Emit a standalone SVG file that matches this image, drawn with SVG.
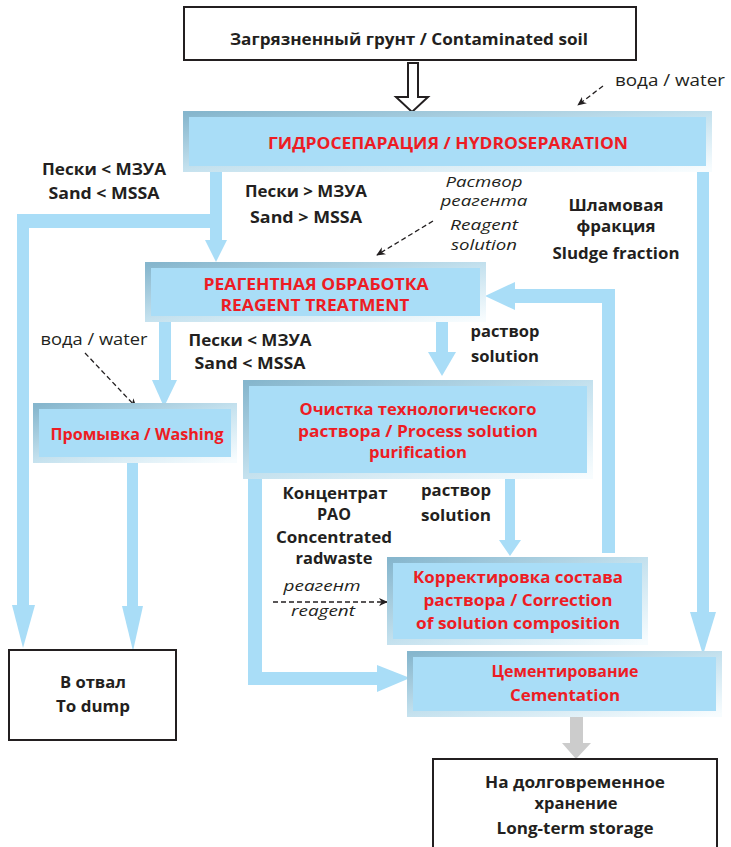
<svg xmlns="http://www.w3.org/2000/svg" width="731" height="847" viewBox="0 0 731 847">
<defs>
<linearGradient id="bev" x1="0" y1="0" x2="1" y2="1">
<stop offset="0" stop-color="#86b6cd"/>
<stop offset="0.5" stop-color="#c4e1ee"/>
<stop offset="1" stop-color="#f7fcfe"/>
</linearGradient>
<marker id="ah" viewBox="0 0 10 10" refX="9" refY="5" markerWidth="9" markerHeight="9" markerUnits="userSpaceOnUse" orient="auto">
<path d="M0,0.5 L10,5 L0,9.5 L3,5 z" fill="#231f20"/>
</marker>
<style>
.t{font-family:"Open Sans","Noto Sans","Liberation Sans",sans-serif;font-weight:700;font-size:16.5px;fill:#231f20;text-anchor:middle}
.r{fill:#ed1c24}
.i{font-style:italic;font-weight:400;font-size:15px}
.n{font-weight:400}
.bx{fill:#ffffff;stroke:#231f20;stroke-width:2}
.bl{fill:#a9ddf7;stroke:url(#bev);stroke-width:6}
.p{fill:#a9ddf7}
.d{fill:none;stroke:#231f20;stroke-width:1.3;stroke-dasharray:5 3;marker-end:url(#ah)}
</style>
</defs>

<g id="connectors">
<polygon points="408,63 418,63 418,97 428,97 412,112 396,97 408,97" fill="#ffffff" stroke="#231f20" stroke-width="2" stroke-linejoin="miter"/>
<rect class="p" x="210" y="172" width="12" height="69"/>
<polygon class="p" points="205,240 227,240 216,262"/>
<rect class="p" x="17" y="214" width="205" height="14"/>
<rect class="p" x="17" y="214" width="12" height="392"/>
<polygon class="p" points="12,605 35,605 23,648"/>
<rect class="p" x="697" y="172" width="12" height="442"/>
<polygon class="p" points="690,612 716,612 703,655"/>
<rect class="p" x="159" y="322" width="12" height="59"/>
<polygon class="p" points="152,380 177,380 164,407"/>
<rect class="p" x="436" y="322" width="12" height="32"/>
<polygon class="p" points="428,352 456,352 442,376"/>
<rect class="p" x="127" y="463" width="11" height="145"/>
<polygon class="p" points="122,606 143,606 133,651"/>
<rect class="p" x="602" y="289" width="13" height="264"/>
<rect class="p" x="512" y="289" width="103" height="14"/>
<polygon class="p" points="515,282 515,310 485,296"/>
<rect class="p" x="505" y="478" width="10" height="63"/>
<polygon class="p" points="499,540 521,540 510,556"/>
<rect class="p" x="248" y="478" width="14" height="207"/>
<rect class="p" x="248" y="672" width="132" height="13"/>
<polygon class="p" points="377,665 377,692 410,678"/>
<rect x="570" y="716" width="13" height="28" fill="#cccccc"/>
<polygon points="562,743 591,743 576,759" fill="#cccccc"/>
<line class="d" x1="603" y1="86" x2="578" y2="105"/>
<line class="d" x1="433" y1="221" x2="377" y2="255"/>
<line class="d" x1="85" y1="353" x2="136" y2="407"/>
<line class="d" x1="273" y1="602" x2="387" y2="602"/>
</g>

<g id="soil">
<rect class="bx" x="184" y="7" width="452" height="53"/>
<text class="t" x="409" y="44.5" textLength="358" lengthAdjust="spacingAndGlyphs">Загрязненный грунт / Contaminated soil</text>
</g>

<g id="hydroseparation">
<rect class="bl" x="186" y="114" width="523" height="55"/>
<text class="t r" x="448" y="149" textLength="360" lengthAdjust="spacingAndGlyphs">ГИДРОСЕПАРАЦИЯ / HYDROSEPARATION</text>
</g>

<g id="reagent-treatment">
<rect class="bl" x="148" y="265" width="335" height="54"/>
<text class="t r" x="316" y="290" textLength="225" lengthAdjust="spacingAndGlyphs">РЕАГЕНТНАЯ ОБРАБОТКА</text>
<text class="t r" x="315" y="311" textLength="189" lengthAdjust="spacingAndGlyphs">REAGENT TREATMENT</text>
</g>

<g id="washing">
<rect class="bl" x="36" y="406" width="198" height="54"/>
<text class="t r" x="137" y="440" textLength="173" lengthAdjust="spacingAndGlyphs">Промывка / Washing</text>
</g>

<g id="purification">
<rect class="bl" x="246" y="383" width="344" height="93"/>
<text class="t r" x="418" y="415" textLength="237" lengthAdjust="spacingAndGlyphs">Очистка технологического</text>
<text class="t r" x="418" y="437" textLength="240" lengthAdjust="spacingAndGlyphs">раствора / Process solution</text>
<text class="t r" x="418" y="458" textLength="98" lengthAdjust="spacingAndGlyphs">purification</text>
</g>

<g id="correction">
<rect class="bl" x="390" y="560" width="255" height="82"/>
<text class="t r" x="518" y="583" textLength="210" lengthAdjust="spacingAndGlyphs">Корректировка состава</text>
<text class="t r" x="518" y="606" textLength="189" lengthAdjust="spacingAndGlyphs">раствора / Correction</text>
<text class="t r" x="518" y="629" textLength="204" lengthAdjust="spacingAndGlyphs">of solution composition</text>
</g>

<g id="cementation">
<rect class="bl" x="410" y="654" width="309" height="60"/>
<text class="t r" x="565" y="677" textLength="147" lengthAdjust="spacingAndGlyphs">Цементирование</text>
<text class="t r" x="565" y="701" textLength="110" lengthAdjust="spacingAndGlyphs">Cementation</text>
</g>

<g id="dump">
<rect class="bx" x="9" y="650" width="167" height="90"/>
<text class="t" x="93" y="688" textLength="66" lengthAdjust="spacingAndGlyphs">В отвал</text>
<text class="t" x="93" y="712" textLength="74" lengthAdjust="spacingAndGlyphs">To dump</text>
</g>

<g id="storage">
<rect class="bx" x="433" y="759" width="284" height="95"/>
<text class="t" x="575" y="788" textLength="180" lengthAdjust="spacingAndGlyphs">На долговременное</text>
<text class="t" x="576" y="809" textLength="83" lengthAdjust="spacingAndGlyphs">хранение</text>
<text class="t" x="575" y="834" textLength="157" lengthAdjust="spacingAndGlyphs">Long-term storage</text>
</g>

<g id="labels">
<text class="t n" x="670" y="86" textLength="110" lengthAdjust="spacingAndGlyphs">вода / water</text>
<text class="t" x="104" y="175" textLength="124" lengthAdjust="spacingAndGlyphs">Пески &lt; МЗУА</text>
<text class="t" x="104" y="199" textLength="111" lengthAdjust="spacingAndGlyphs">Sand &lt; MSSA</text>
<text class="t" x="306" y="197" textLength="122" lengthAdjust="spacingAndGlyphs">Пески &gt; МЗУА</text>
<text class="t" x="306" y="223" textLength="112" lengthAdjust="spacingAndGlyphs">Sand &gt; MSSA</text>
<text class="t i" x="484" y="187" textLength="77" lengthAdjust="spacingAndGlyphs">Раствор</text>
<text class="t i" x="484" y="206" textLength="87" lengthAdjust="spacingAndGlyphs">реагента</text>
<text class="t i" x="484" y="230" textLength="68" lengthAdjust="spacingAndGlyphs">Reagent</text>
<text class="t i" x="484" y="250" textLength="66" lengthAdjust="spacingAndGlyphs">solution</text>
<text class="t" x="616" y="211" textLength="95" lengthAdjust="spacingAndGlyphs">Шламовая</text>
<text class="t" x="616" y="232" textLength="79" lengthAdjust="spacingAndGlyphs">фракция</text>
<text class="t" x="616" y="259" textLength="127" lengthAdjust="spacingAndGlyphs">Sludge fraction</text>
<text class="t n" x="94" y="345" textLength="107" lengthAdjust="spacingAndGlyphs">вода / water</text>
<text class="t" x="250" y="346" textLength="123" lengthAdjust="spacingAndGlyphs">Пески &lt; МЗУА</text>
<text class="t" x="250" y="369" textLength="111" lengthAdjust="spacingAndGlyphs">Sand &lt; MSSA</text>
<text class="t" x="505" y="337" textLength="69" lengthAdjust="spacingAndGlyphs">раствор</text>
<text class="t" x="505" y="362" textLength="68" lengthAdjust="spacingAndGlyphs">solution</text>
<text class="t" x="335" y="499" textLength="105" lengthAdjust="spacingAndGlyphs">Концентрат</text>
<text class="t" x="334" y="520" textLength="34" lengthAdjust="spacingAndGlyphs">РАО</text>
<text class="t" x="334" y="543" textLength="116" lengthAdjust="spacingAndGlyphs">Concentrated</text>
<text class="t" x="334" y="564" textLength="77" lengthAdjust="spacingAndGlyphs">radwaste</text>
<text class="t" x="456" y="496" textLength="70" lengthAdjust="spacingAndGlyphs">раствор</text>
<text class="t" x="456" y="521" textLength="70" lengthAdjust="spacingAndGlyphs">solution</text>
<text class="t i" x="322" y="591" textLength="77" lengthAdjust="spacingAndGlyphs">реагент</text>
<text class="t i" x="323" y="616" textLength="64" lengthAdjust="spacingAndGlyphs">reagent</text>
</g>
</svg>
